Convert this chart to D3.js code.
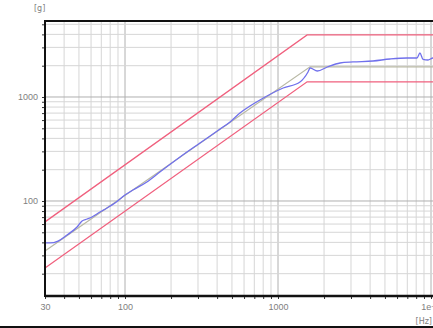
<!DOCTYPE html>
<html>
<head>
<meta charset="utf-8">
<script src="https://cdn.jsdelivr.net/npm/d3@7"></script>
<style>
  html, body { margin: 0; padding: 0; background: #fff; }
  svg { display: block; }
</style>
</head>
<body>
<div id="chart"></div>
<script>
// frequency axis [Hz] and level [g]
const xTickValues = [30, 100, 1000, 10000];
const xTickLabels = ["30", "100", "1000", "1e+4"];
const yTickValues = [100, 1000];
const yTickLabels = ["100", "1000"];

// tolerance bands (red)
const upperFreq = [30, 1550, 20000];
const upperLevel = [63, 3950, 3950];
const lowerFreq = [30, 1550, 20000];
const lowerLevel = [22.7, 1400, 1400];

// reference profile (grey)
const refFreq = [30, 1620, 20000];
const refLevel = [33, 1950, 1950];

// measured response (blue)
const measFreq = [30, 32.4, 36.5, 41.8, 48.6, 52.4, 56.5, 60.8, 68.6, 76.3, 86, 100, 112.7, 139, 169, 229, 309,
    418, 486, 564, 656, 762, 1081, 1392, 1571, 1622, 1806, 2100, 2544, 3093, 4178, 5395, 6965, 8100, 8470,
    8870, 9560, 10300, 11000];
const measLevel = [39.5, 39.5, 41.2, 47.1, 56.2, 64.3, 67.1, 70.2, 78.3, 85.7, 95.7, 114, 127.6, 152.5, 190, 265,
    361, 492, 575, 702, 819, 936, 1220, 1394, 1739, 1900, 1778, 1943, 2123, 2172, 2220, 2319, 2372, 2372, 2648,
    2300, 2269, 2372, 2372];

const W = 433, H = 328;
const plot = { left: 45, top: 21, bottom: 296, right: 460 };

const x = d3.scaleLog().domain([30, 10000]).range([45, 431]);
const y = d3.scaleLog().domain([12.2, 5380]).range([plot.bottom, plot.top]);

const svg = d3.select("#chart").append("svg")
    .attr("width", W)
    .attr("height", H)
    .style("font-family", "'DejaVu Sans', sans-serif");

svg.append("clipPath").attr("id", "clip")
    .append("rect")
    .attr("x", plot.left).attr("y", plot.top)
    .attr("width", plot.right - plot.left).attr("height", plot.bottom - plot.top);

/**
 * log grid values 1..9 per decade inside a range
 */
function logGrid(lo, hi) {
    const out = [];
    for (let e = 0; e <= 5; e++) {
        for (let m = 1; m <= 9; m++) {
            const v = m * Math.pow(10, e);
            if (v >= lo && v <= hi) out.push(v);
        }
    }
    return out;
}

const isDecade = v => Math.abs(Math.log10(v) - Math.round(Math.log10(v))) < 1e-9;

const grid = svg.append("g").attr("clip-path", "url(#clip)");

grid.selectAll("line.vx")
    .data(logGrid(30, 30000))
    .enter().append("line")
    .attr("class", "vx")
    .attr("x1", d => x(d)).attr("x2", d => x(d))
    .attr("y1", plot.top).attr("y2", plot.bottom)
    .attr("stroke", d => isDecade(d) ? "#b0b0b0" : "#d6d6d6")
    .attr("stroke-width", 1);

grid.selectAll("line.hy")
    .data(logGrid(10, 6000))
    .enter().append("line")
    .attr("class", "hy")
    .attr("x1", plot.left).attr("x2", plot.right)
    .attr("y1", d => y(d)).attr("y2", d => y(d))
    .attr("stroke", d => isDecade(d) ? "#b0b0b0" : "#d6d6d6")
    .attr("stroke-width", 1);

// curves
const line = d3.line().x(d => x(d[0])).y(d => y(d[1]));
const curves = svg.append("g").attr("clip-path", "url(#clip)").attr("fill", "none");

curves.append("path")
    .datum(d3.zip(refFreq, refLevel))
    .attr("d", line)
    .attr("stroke", "#b8b8a4")
    .attr("stroke-width", 1.2);

curves.append("path")
    .datum(d3.zip(upperFreq, upperLevel))
    .attr("d", line)
    .attr("stroke", "#f0607e")
    .attr("stroke-width", 1.3);

curves.append("path")
    .datum(d3.zip(lowerFreq, lowerLevel))
    .attr("d", line)
    .attr("stroke", "#f0607e")
    .attr("stroke-width", 1.3);

curves.append("path")
    .datum(d3.zip(measFreq, measLevel))
    .attr("d", line.curve(d3.curveMonotoneX))
    .attr("stroke", "#7070ec")
    .attr("stroke-width", 1.3);

// axes
const yAxis = d3.axisLeft(y)
    .tickValues(logGrid(13, 5300))
    .tickSize(3)
    .tickFormat(d => {
        const i = yTickValues.indexOf(d);
        return i >= 0 ? yTickLabels[i] : "";
    });

svg.append("g")
    .attr("transform", `translate(${plot.left},0)`)
    .call(yAxis)
    .call(g => g.select(".domain").remove())
    .call(g => g.selectAll("line").attr("stroke", "#333"))
    .call(g => g.selectAll("text").attr("fill", "#808080").attr("font-size", 9).attr("x", -7));

const xAxis = d3.axisBottom(x)
    .tickValues(logGrid(30, 10000))
    .tickSize(3)
    .tickFormat(d => {
        const i = xTickValues.indexOf(d);
        return i >= 0 ? xTickLabels[i] : "";
    });

svg.append("g")
    .attr("transform", `translate(0,${plot.bottom})`)
    .call(xAxis)
    .call(g => g.select(".domain").remove())
    .call(g => g.selectAll("line").attr("stroke", "#333"))
    .call(g => g.selectAll("text").attr("fill", "#808080").attr("font-size", 9).attr("y", 8));

// frame lines
svg.append("line").attr("x1", plot.left).attr("x2", W).attr("y1", plot.top).attr("y2", plot.top)
    .attr("stroke", "#111").attr("stroke-width", 2);
svg.append("line").attr("x1", plot.left).attr("x2", W).attr("y1", plot.bottom).attr("y2", plot.bottom)
    .attr("stroke", "#111").attr("stroke-width", 2.5);
svg.append("line").attr("x1", plot.left).attr("x2", plot.left).attr("y1", plot.top - 1).attr("y2", plot.bottom + 1)
    .attr("stroke", "#111").attr("stroke-width", 2);
svg.append("line").attr("x1", 0).attr("x2", W).attr("y1", 327).attr("y2", 327)
    .attr("stroke", "#111").attr("stroke-width", 2);

// unit labels
svg.append("text").attr("x", 34).attr("y", 11).text("[g]")
    .attr("fill", "#808080").attr("font-size", 8);
svg.append("text").attr("x", 432).attr("y", 324).text("[Hz]")
    .attr("text-anchor", "end").attr("fill", "#808080").attr("font-size", 8);
</script>
</body>
</html>
